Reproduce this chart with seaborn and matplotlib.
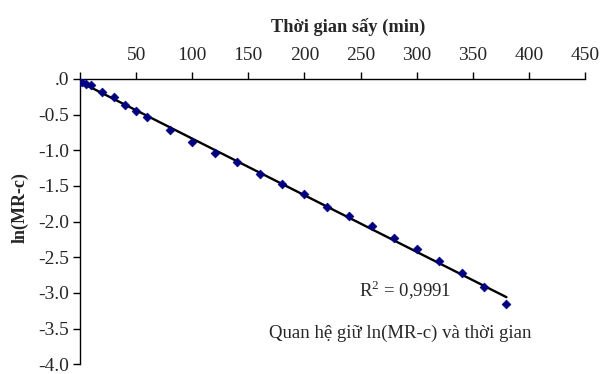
import numpy as np
import pandas as pd
import matplotlib
matplotlib.use("Agg")
import matplotlib.pyplot as plt
import seaborn as sns
from matplotlib.ticker import FuncFormatter, FixedLocator

# Drying time (min) and ln(MR - c)
time_min = [0, 2, 5, 10, 20, 30, 40, 50, 60, 80, 100, 120, 140, 160, 180,
            200, 220, 240, 260, 280, 300, 320, 340, 360, 380]
ln_mr_c = [-0.05, -0.05, -0.07, -0.09, -0.19, -0.26, -0.36, -0.45, -0.54,
           -0.71, -0.88, -1.04, -1.165, -1.33, -1.47, -1.62, -1.79, -1.92,
           -2.06, -2.23, -2.38, -2.55, -2.72, -2.92, -3.16]

x_ticks = [0, 50, 100, 150, 200, 250, 300, 350, 400, 450]
y_ticks = [0.0, -0.5, -1.0, -1.5, -2.0, -2.5, -3.0, -3.5, -4.0]

r2_label = "R$^2$ = 0,9991"
caption = "Quan hệ giữ ln(MR-c) và thời gian"
x_title = "Thời gian sấy (min)"
y_title = "ln(MR-c)"

sns.set_style("white")
plt.rcParams["font.family"] = ["Liberation Serif", "DejaVu Serif"]
plt.rcParams["mathtext.fontset"] = "custom"
plt.rcParams["mathtext.rm"] = "Liberation Serif"
plt.rcParams["axes.unicode_minus"] = False

df = pd.DataFrame({"t": time_min, "y": ln_mr_c})

fig = plt.figure(figsize=(6, 3.74), dpi=100)
ax = fig.add_axes([0.1333, 0.026, 0.8417, 0.763])

sns.regplot(data=df, x="t", y="y", ax=ax, scatter=False, ci=None,
            truncate=True, color="black", line_kws={"linewidth": 1.7})
sns.scatterplot(data=df, x="t", y="y", ax=ax, marker="D", s=20,
                color="#000080", edgecolor="#000080", linewidth=0.5, zorder=3)

ax.set_xlim(0, 450)
ax.set_ylim(-4.0, 0.0)

ax.xaxis.tick_top()
ax.xaxis.set_label_position("top")
ax.xaxis.set_major_locator(FixedLocator(x_ticks))
ax.yaxis.set_major_locator(FixedLocator(y_ticks))
ax.xaxis.set_major_formatter(FuncFormatter(lambda v, p: "" if v == 0 else f"{v:.0f}"))
ax.yaxis.set_major_formatter(FuncFormatter(lambda v, p: ".0" if abs(v) < 1e-9 else f"{v:.1f}"))

ax.tick_params(axis="x", which="major", direction="out", length=5, width=1,
               labelsize=14, pad=6, top=True, bottom=False, color="black")
ax.tick_params(axis="y", which="major", direction="out", length=5, width=1,
               labelsize=14, pad=3, left=True, color="black")

for side in ["right", "bottom"]:
    ax.spines[side].set_visible(False)
for side in ["top", "left"]:
    ax.spines[side].set_visible(True)
    ax.spines[side].set_color("black")
    ax.spines[side].set_linewidth(1)

ax.set_xlabel(x_title, fontsize=13.2, fontweight="bold")
ax.set_ylabel(y_title, fontsize=13, fontweight="bold")
ax.xaxis.set_label_coords(0.530, 1.165)
ax.yaxis.set_label_coords(-0.101, 0.548)

ax.text(289.6, -2.96, r2_label, fontsize=13.5, ha="center", va="center")
ax.text(285, -3.56, caption, fontsize=13.5, ha="center", va="center")

fig.savefig("out.png", dpi=100)
